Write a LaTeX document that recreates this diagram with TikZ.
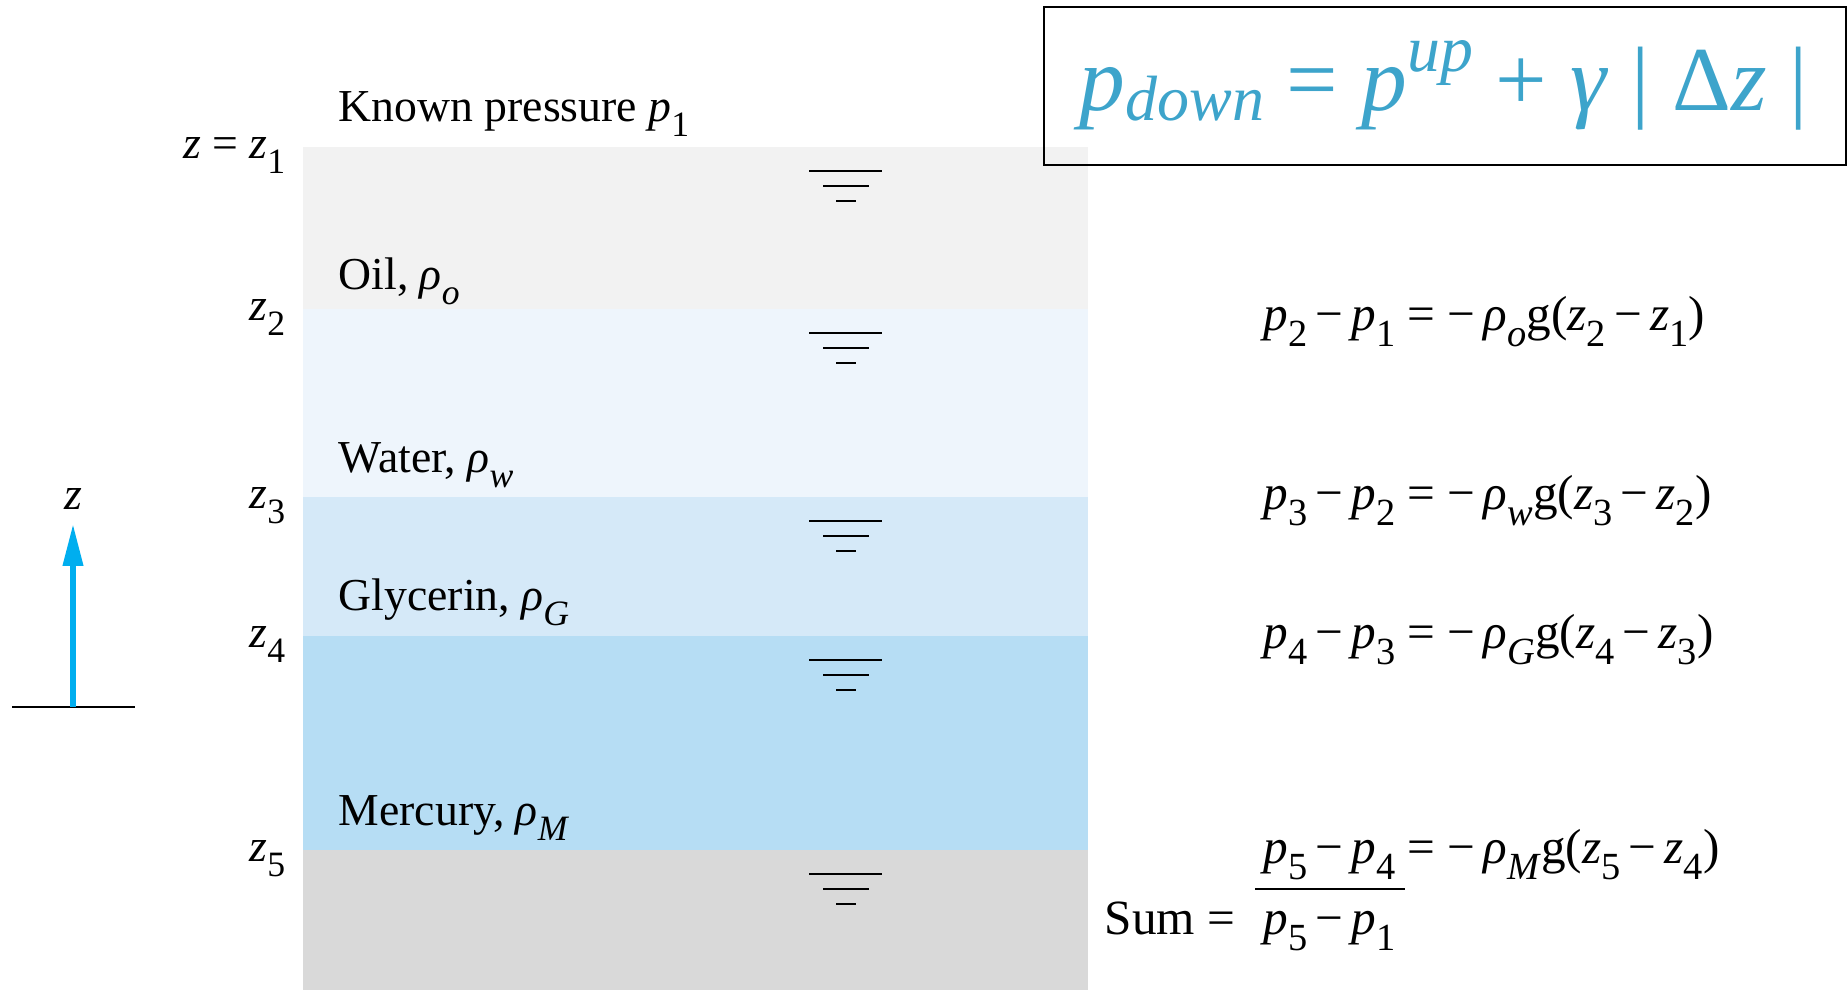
\documentclass[tikz,border=0pt]{standalone}
\usepackage{fontspec}
\usepackage{graphicx}
\setmainfont{Liberation Serif}
\usetikzlibrary{arrows.meta}
\definecolor{oilgray}{HTML}{F2F2F2}
\definecolor{waterblue}{HTML}{EEF5FC}
\definecolor{glycblue}{HTML}{D5E9F8}
\definecolor{mercblue}{HTML}{B6DDF4}
\definecolor{basegray}{HTML}{D9D9D9}
\definecolor{zcyan}{HTML}{00AEEF}
\definecolor{lawblue}{HTML}{3DA4CB}
\newcommand{\lo}[1]{\raisebox{-0.34em}{\scalebox{0.78}{#1}}}
\newcommand{\lawsub}[1]{\raisebox{-0.12em}{\scalebox{0.7}{#1}}}
\newcommand{\lawsup}[1]{\raisebox{0.42em}{\scalebox{0.72}{#1}}}
\newcommand{\iv}[1]{\textit{#1}}
\newcommand{\mn}{\,−\,}

\begin{document}
\begin{tikzpicture}[x=0.01cm, y=-0.01cm,
    every node/.style={inner sep=0pt, font=\fontsize{13}{15}\selectfont},
    eqn/.style={anchor=base west, font=\fontsize{14}{16}\selectfont},
    zlabel/.style={anchor=base east},
    fluid/.style={anchor=base west}]
            \useasboundingbox (0,0) rectangle (1847,990);
            \fill[oilgray] (303,147) rectangle (1088,309);
            \fill[waterblue] (303,309) rectangle (1088,497);
            \fill[glycblue] (303,497) rectangle (1088,636);
            \fill[mercblue] (303,636) rectangle (1088,850);
            \fill[basegray] (303,850) rectangle (1088,990);
            \foreach \y in {147,309,497,636,850}
                \draw[line width=0.7pt] (809,\y+24) -- (882,\y+24) (823,\y+39) -- (869,\y+39) (836,\y+54) -- (856,\y+54);

            \node[fluid] (known) at (338,121) {Known pressure \iv{p}\lo{1}};
            \node[fluid] (oil) at (338,289) {Oil, \iv{ρ}\lo{\iv{o}}};
            \node[fluid] (water) at (338,472) {Water, \iv{ρ}\lo{\iv{w}}};
            \node[fluid] (glycerin) at (338,610) {Glycerin, \iv{ρ}\lo{\iv{G}}};
            \node[fluid] (mercury) at (338,825) {Mercury, \iv{ρ}\lo{\iv{M}}};

            \node[zlabel] (z1) at (286,158) {\iv{z} = \iv{z}\lo{1}};
            \node[zlabel] (z2) at (286,320) {\iv{z}\lo{2}};
            \node[zlabel] (z3) at (286,508) {\iv{z}\lo{3}};
            \node[zlabel] (z4) at (286,647) {\iv{z}\lo{4}};
            \node[zlabel] (z5) at (286,861) {\iv{z}\lo{5}};

            \coordinate (groundl) at (12,707);
            \coordinate (groundr) at (135,707);
            \coordinate (zfoot) at (73,707);
            \node[anchor=base] (zaxis) at (73,509) {\iv{z}};
            \draw[line width=0.8pt] (groundl) -- (groundr);
            \draw[zcyan, line width=1.7pt, -{Triangle[length=12pt, width=5.5pt]}] (zfoot) -- ([yshift=-4pt]zaxis.south);

            \draw[line width=0.7pt] (1044,7) rectangle (1846,165);
            \node[anchor=base west, text=lawblue, font=\fontsize{26}{30}\selectfont] (law) at (1079,110)
                {\iv{p}\lawsub{\iv{down}} = \iv{p}\lawsup{\iv{up}} + \iv{γ}\ |\ Δ\iv{z}\ |};

            \node[eqn] (eqoil) at (1263,330) {\iv{p}\lo{2}\mn\iv{p}\lo{1} = −\,\iv{ρ}\lo{\iv{o}}g(\iv{z}\lo{2}\mn\iv{z}\lo{1})};
            \node[eqn] (eqwater) at (1263,509) {\iv{p}\lo{3}\mn\iv{p}\lo{2} = −\,\iv{ρ}\lo{\iv{w}}g(\iv{z}\lo{3}\mn\iv{z}\lo{2})};
            \node[eqn] (eqglyc) at (1263,648) {\iv{p}\lo{4}\mn\iv{p}\lo{3} = −\,\iv{ρ}\lo{\iv{G}}g(\iv{z}\lo{4}\mn\iv{z}\lo{3})};
            \node[eqn] (eqmerc) at (1263,863) {\iv{p}\lo{5}\mn\iv{p}\lo{4} = −\,\iv{ρ}\lo{\iv{M}}g(\iv{z}\lo{5}\mn\iv{z}\lo{4})};
            \node[eqn] (total) at (1263,934) {\iv{p}\lo{5}\mn\iv{p}\lo{1}};
            \node[anchor=base west, font=\fontsize{14}{16}\selectfont] (sum) at (1104,934) {Sum =};
            \coordinate (barl) at (1255,889);
            \coordinate (barr) at (1405,889);
            \draw[line width=0.7pt] (barl) -- (barr);
        \end{tikzpicture}
\end{document}
